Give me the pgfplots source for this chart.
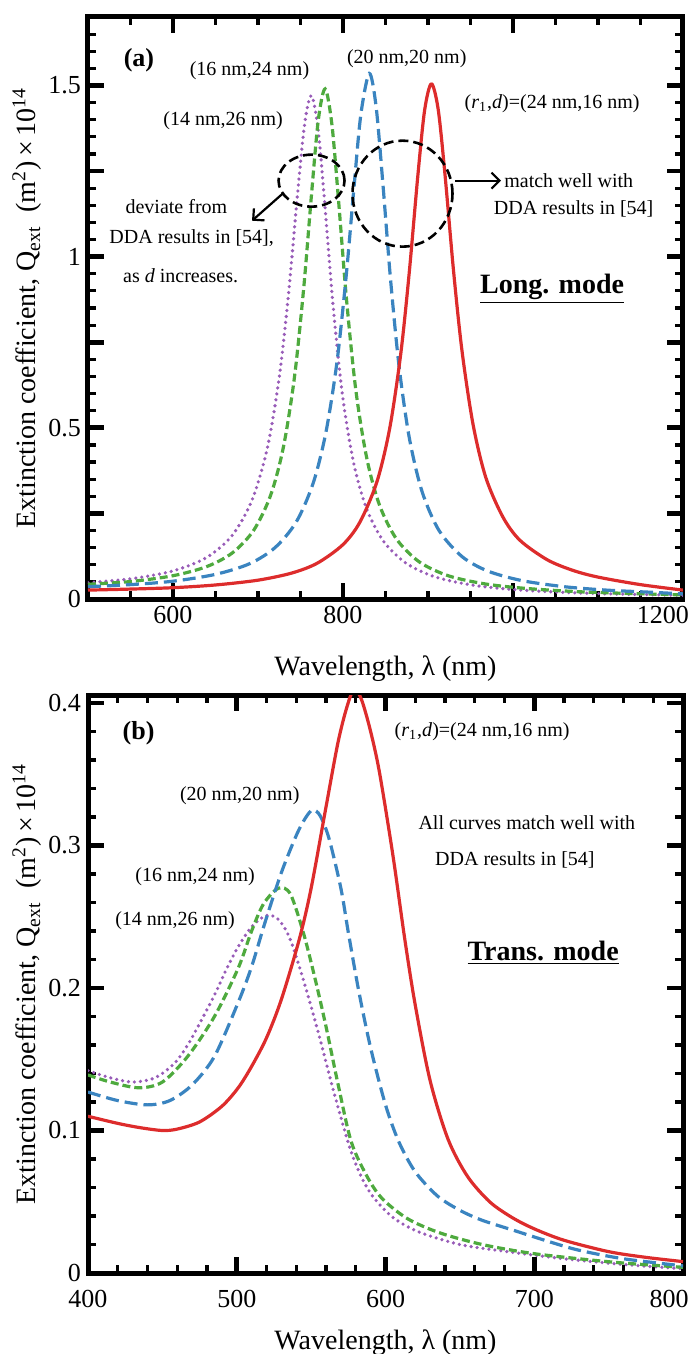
\documentclass[border=0pt]{standalone}
\usepackage{fontspec}
\setmainfont{Liberation Serif}
\usepackage{pgfplots}
\pgfplotsset{compat=1.18}
\usetikzlibrary{arrows.meta}

\definecolor{cred}{RGB}{221,44,44}
\definecolor{cblue}{RGB}{58,132,192}
\definecolor{cgreen}{RGB}{78,170,62}
\definecolor{cpurple}{RGB}{152,92,184}

\tikzset{
  circ/.style={black, line width=1.3pt, dash pattern=on 5pt off 2.5pt},
  arr/.style={black, line width=1.1pt, -{Straight Barb[length=4pt,width=8pt]}},
}

\pgfplotsset{
  qbase/.style={
    scale only axis,
    width=297.5pt,
    axis line style={line width=2.5pt},
    tick align=inside,
    major tick length=8pt,
    minor tick length=4pt,
    major tick style={line width=2.4pt,black},
    minor tick style={line width=1.6pt,black},
    tick label style={font=\fontsize{13}{15}\selectfont},
    label style={font=\fontsize{14}{16}\selectfont},
    /pgf/number format/assume math mode=true,
    ylabel style={at={(axis description cs:-0.1025,0.5)}, anchor=center},
    xlabel style={at={(axis description cs:0.5,0)}, anchor=center, yshift=-35pt},
    ylabel={Extinction coefficient, Q\textsubscript{ext}\ \ (m\textsuperscript{2})\,×\,10\textsuperscript{14}},
    xlabel={Wavelength, λ (nm)},
    every node/.append style={font=\fontsize{12}{14}\selectfont},
  },
  lred/.style={cred, line width=1.6pt, smooth, line join=round},
  lblue/.style={cblue, line width=1.6pt, smooth, dash pattern=on 6.5pt off 3pt},
  lgreen/.style={cgreen, line width=1.6pt, smooth, dash pattern=on 4pt off 2pt},
  lpurple/.style={cpurple, line width=1.8pt, smooth, line cap=round, dash pattern=on 0pt off 3pt},
}

\begin{document}
\begin{tikzpicture}
\path[use as bounding box] (0pt,0pt) rectangle (345.5pt,-677pt);

% (a) longitudinal mode
\begin{axis}[qbase, at={(44pt,-8.5pt)}, anchor=north west, height=291pt,
  xmin=500, xmax=1200, ymin=0, ymax=1.7,
  xtick={600,800,1000}, xticklabels={600,800,1000},
  extra x ticks={1200}, extra x tick labels={1200},
  extra x tick style={xticklabel style={xshift=-10pt}},
  minor xtick={550,650,700,750,850,900,950,1050,1100,1150},
  ytick={0,0.25,0.5,0.75,1,1.25,1.5}, yticklabels={0,,0.5,,1,,1.5},
  minor ytick={0.05,0.1,0.15,0.2,0.3,0.35,0.4,0.45,0.55,0.6,0.65,0.7,0.8,0.85,0.9,0.95,1.05,1.1,1.15,1.2,1.3,1.35,1.4,1.45,1.55,1.6,1.65},
]
\addplot[lpurple] coordinates {
  (500,0.048) (550,0.059) (600,0.082) (640,0.122) (670,0.187) (693,0.289)
  (711,0.441) (725,0.648) (736,0.893) (746,1.169) (755,1.390) (763,1.470)
  (771,1.366) (779,1.140) (788,0.866) (799,0.603) (812,0.404) (827,0.269)
  (847,0.171) (874,0.105) (909,0.064) (954,0.040) (1004,0.027) (1064,0.019)
  (1130,0.014) (1200,0.011)
};
\addplot[lgreen] coordinates {
  (500,0.043) (550,0.051) (600,0.068) (640,0.095) (670,0.135) (695,0.201)
  (715,0.304) (730,0.445) (743,0.650) (754,0.914) (763,1.183) (771,1.400)
  (779,1.490) (787,1.385) (795,1.157) (804,0.879) (815,0.612) (828,0.411)
  (843,0.274) (863,0.175) (890,0.108) (925,0.067) (970,0.043) (1020,0.030)
  (1080,0.021) (1140,0.016) (1200,0.012)
};
\addplot[lblue] coordinates {
  (500,0.036) (550,0.042) (600,0.052) (650,0.072) (690,0.103) (720,0.150)
  (745,0.225) (765,0.339) (780,0.488) (793,0.694) (804,0.950) (813,1.204)
  (821,1.415) (831,1.535) (839,1.437) (847,1.211) (856,0.932) (866,0.679)
  (878,0.471) (893,0.314) (913,0.200) (940,0.124) (970,0.082) (1010,0.054)
  (1060,0.036) (1110,0.026) (1160,0.020) (1200,0.015)
};
\addplot[lred] coordinates {
  (500,0.026) (550,0.029) (600,0.033) (650,0.041) (700,0.055) (740,0.076)
  (770,0.105) (800,0.159) (820,0.225) (840,0.343) (855,0.499) (868,0.717)
  (878,0.955) (888,1.235) (896,1.427) (904,1.505) (912,1.430) (920,1.240)
  (930,0.960) (940,0.725) (953,0.510) (968,0.355) (988,0.240) (1008,0.172)
  (1040,0.115) (1070,0.084) (1100,0.064) (1150,0.042) (1200,0.026)
};
\node[font=\fontsize{13}{15}\selectfont\bfseries] at (axis cs:560,1.573) {(a)};
\node at (axis cs:690,1.544) {(16 nm,24 nm)};
\node at (axis cs:875,1.579) {(20 nm,20 nm)};
\node at (axis cs:659,1.398) {(14 nm,26 nm)};
\node at (axis cs:1046,1.447) {(\textit{r}\textsubscript{1},\textit{d})=(24 nm,16 nm)};
\draw[circ] (axis cs:763,1.222) ellipse [x radius=16.5pt, y radius=13pt];
\draw[circ] (axis cs:870,1.184) ellipse [x radius=25pt, y radius=26.5pt];
\draw[arr] (axis cs:932,1.222) -- (axis cs:986,1.222);
\node[anchor=west, inner sep=1pt] at (axis cs:987,1.222) {match well with};
\node[anchor=east, inner sep=1pt] at (axis cs:1168,1.140) {DDA results in [54]};
\draw[arr] (axis cs:729,1.184) -- (axis cs:693,1.105);
\node at (axis cs:604,1.146) {deviate from};
\node at (axis cs:622,1.053) {DDA results in [54],};
\node at (axis cs:609,0.944) {as \textit{d} increases.};
\node[font=\fontsize{14}{16}\selectfont\bfseries] at (axis cs:1046,0.906) {\underline{Long. mode}};
\end{axis}

% (b) transverse mode
\begin{axis}[qbase, at={(44pt,-347.5pt)}, anchor=north west, height=289pt,
  xmin=400, xmax=800, ymin=0, ymax=0.4056,
  xtick={400,500,600,700}, xticklabels={400,500,600,700},
  extra x ticks={800}, extra x tick labels={800},
  extra x tick style={xticklabel style={xshift=-7pt}},
  minor xtick={420,440,460,480,520,540,560,580,620,640,660,680,720,740,760,780},
  ytick={0,0.1,0.2,0.3,0.4}, yticklabels={0,0.1,0.2,0.3,0.4},
  minor y tick num=4,
  xticklabel style={yshift=-5pt},
]
\addplot[lpurple] coordinates {
  (400,0.142) (415,0.137) (430,0.134) (445,0.137) (458,0.147) (467,0.160)
  (475,0.175) (485,0.195) (493,0.213) (501,0.229) (510,0.243) (518,0.250)
  (523,0.251) (529,0.247) (536,0.234) (545,0.205) (555,0.168) (565,0.128)
  (576,0.088) (584,0.067) (592,0.053) (605,0.039) (622,0.029) (650,0.020)
  (682,0.015) (720,0.010) (760,0.006) (800,0.003)
};
\addplot[lgreen] coordinates {
  (400,0.139) (415,0.134) (434,0.130) (450,0.134) (467,0.152) (485,0.180)
  (501,0.214) (510,0.240) (518,0.259) (528,0.270) (536,0.266) (545,0.238)
  (553,0.205) (560,0.173) (568,0.133) (577,0.092) (588,0.067) (598,0.052)
  (615,0.038) (637,0.028) (665,0.020) (697,0.014) (730,0.010) (760,0.007)
  (800,0.004)
};
\addplot[lblue] coordinates {
  (400,0.127) (420,0.121) (440,0.118) (455,0.121) (470,0.132) (485,0.152)
  (501,0.190) (510,0.215) (519,0.246) (530,0.281) (540,0.307) (546,0.319)
  (551,0.325) (556,0.321) (562,0.305) (570,0.270) (575,0.239) (582,0.198)
  (590,0.158) (600,0.118) (609,0.092) (620,0.071) (635,0.054) (650,0.044)
  (665,0.037) (686,0.030) (710,0.022) (730,0.016) (760,0.010) (800,0.005)
};
\addplot[lred] coordinates {
  (400,0.110) (420,0.105) (435,0.102) (450,0.100) (460,0.101) (475,0.106)
  (490,0.117) (501,0.130) (510,0.145) (520,0.165) (530,0.192) (542,0.234)
  (550,0.270) (560,0.327) (568,0.372) (574,0.397) (579,0.410) (584,0.402)
  (590,0.380) (596,0.351) (605,0.293) (613,0.234) (620,0.188) (630,0.135)
  (642,0.094) (655,0.068) (670,0.050) (685,0.039) (700,0.031) (720,0.023)
  (750,0.015) (775,0.011) (800,0.008)
};
\node[font=\fontsize{13}{15}\selectfont\bfseries] at (axis cs:434,0.379) {(b)};
\node at (axis cs:665,0.380) {(\textit{r}\textsubscript{1},\textit{d})=(24 nm,16 nm)};
\node at (axis cs:502,0.335) {(20 nm,20 nm)};
\node at (axis cs:695,0.316) {All curves match well with};
\node at (axis cs:687,0.290) {DDA results in [54]};
\node at (axis cs:472,0.278) {(16 nm,24 nm)};
\node at (axis cs:458.5,0.247) {(14 nm,26 nm)};
\node[font=\fontsize{14}{16}\selectfont\bfseries] at (axis cs:706,0.2246) {\underline{Trans. mode}};
\end{axis}
\end{tikzpicture}
\end{document}
